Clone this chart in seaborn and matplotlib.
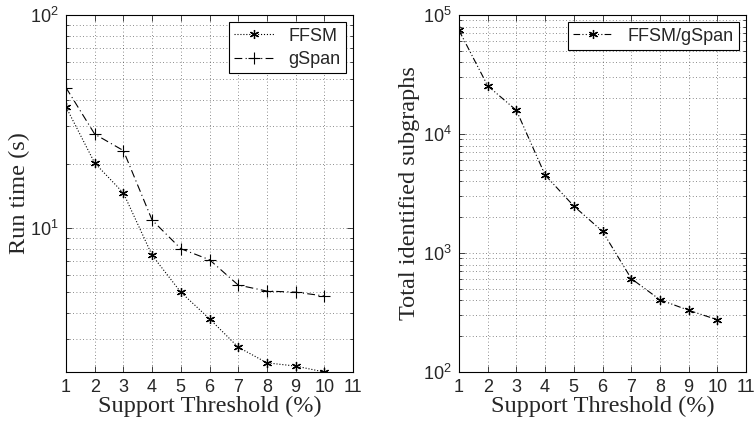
import numpy as np
import pandas as pd
import matplotlib
matplotlib.use('Agg')
import matplotlib.pyplot as plt
import matplotlib.ticker as ticker
import seaborn as sns

# Data
support = [1, 2, 3, 4, 5, 6, 7, 8, 9, 10]
ffsm_time = [37, 20.2, 14.6, 7.45, 5.0, 3.75, 2.76, 2.33, 2.25, 2.11]
gspan_time = [45.6, 27.6, 23.1, 10.9, 8.0, 7.1, 5.4, 5.06, 5.0, 4.8]
subgraphs = [74300, 25400, 15800, 4520, 2480, 1520, 610, 405, 330, 275]
xticks = list(range(1, 12))

sns.set_style('ticks')
plt.rcParams['font.family'] = ['Liberation Sans', 'DejaVu Sans']
plt.rcParams['mathtext.fontset'] = 'custom'
plt.rcParams['mathtext.rm'] = 'Liberation Sans'

df_time = pd.DataFrame({'support': support, 'FFSM': ffsm_time, 'gSpan': gspan_time})
df_sub = pd.DataFrame({'support': support, 'FFSM/gSpan': subgraphs})

fig = plt.figure(figsize=(7.54, 4.24), dpi=100)
ax1 = fig.add_axes([66 / 754, 1 - 372 / 424, (353 - 66) / 754, (372 - 15) / 424])
ax2 = fig.add_axes([459 / 754, 1 - 372 / 424, (746 - 459) / 754, (372 - 15) / 424])

star = (6, 2, 0)

# Left: run time
sns.lineplot(data=df_time, x='support', y='FFSM', ax=ax1, color='black', linestyle=':',
             linewidth=0.8, marker=star, markersize=6.5, markeredgewidth=0.9,
             markeredgecolor='black', label='FFSM')
sns.lineplot(data=df_time, x='support', y='gSpan', ax=ax1, color='black',
             linestyle=(0, (7, 3, 1, 3)), linewidth=0.8, marker='+', markersize=9,
             markeredgewidth=0.8, markeredgecolor='black', label='gSpan')
ax1.set_yscale('log')
ax1.set_ylim(2.11, 100)
ax1.set_ylabel('Run time (s)', fontsize=17.5, family='Liberation Serif', labelpad=0)

# Right: identified subgraphs
sns.lineplot(data=df_sub, x='support', y='FFSM/gSpan', ax=ax2, color='black',
             linestyle=(0, (6, 2, 1, 2, 1, 2)), linewidth=0.8, marker=star, markersize=6.5,
             markeredgewidth=0.9, markeredgecolor='black', label='FFSM/gSpan')
ax2.set_yscale('log')
ax2.set_ylim(100, 100000)
ax2.set_ylabel('Total identified subgraphs', fontsize=17.5, family='Liberation Serif', labelpad=2)

for ax in (ax1, ax2):
    ax.set_xlim(1, 11)
    ax.set_xticks(xticks)
    ax.set_xlabel('Support Threshold (%)', fontsize=17.5, family='Liberation Serif', labelpad=0)
    ax.yaxis.set_minor_formatter(ticker.NullFormatter())
    ax.xaxis.grid(True, which='major', linestyle=(0, (1, 3)), color='black', linewidth=0.6, alpha=0.6)
    ax.yaxis.grid(True, which='both', linestyle=(0, (1, 3)), color='black', linewidth=0.6, alpha=0.6)
    ax.tick_params(which='both', direction='in', top=True, right=True, labelsize=13,
                   width=0.6, pad=5)
    ax.tick_params(which='major', length=4)
    ax.tick_params(which='minor', length=2)
    for s in ax.spines.values():
        s.set_linewidth(0.8)
        s.set_color('black')
    leg = ax.legend(loc='upper right', fontsize=13, frameon=True, fancybox=False,
                    edgecolor='black', framealpha=1, borderaxespad=0.4,
                    handlelength=2.2, borderpad=0.3, labelspacing=0.35)
    leg.get_frame().set_linewidth(0.8)

fig.savefig('out.png', dpi=100)
